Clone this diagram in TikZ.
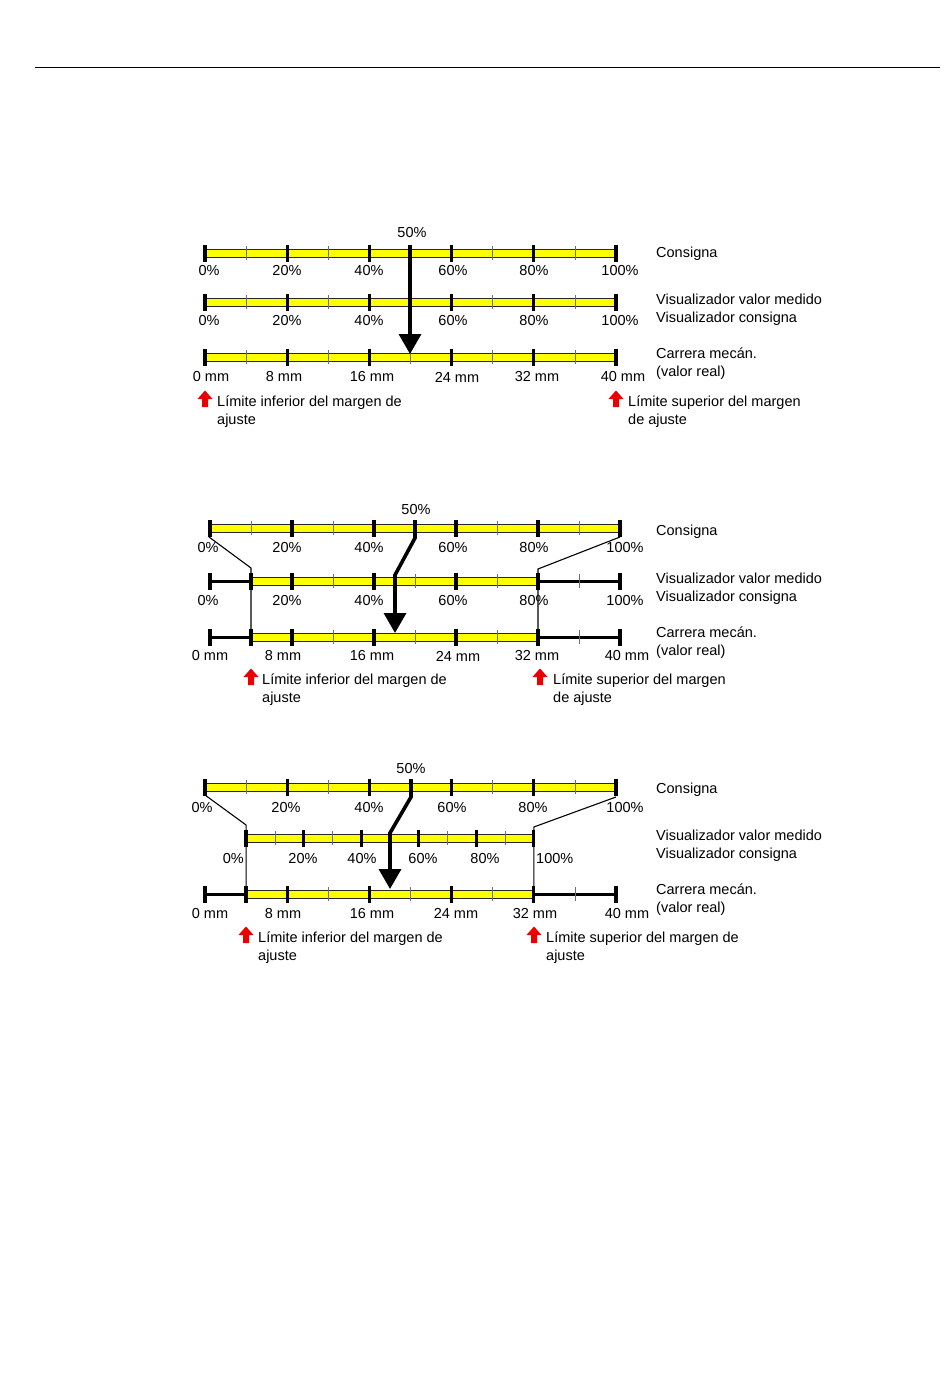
\documentclass[tikz,border=0pt]{standalone}
\usepackage{fontspec}
\setmainfont{Liberation Sans}
\usepackage{tikz}
\usetikzlibrary{arrows.meta, positioning, calc}
\definecolor{baryellow}{RGB}{255,255,0}
\definecolor{tickgray}{RGB}{110,110,110}
\definecolor{limred}{RGB}{235,0,0}

\tikzset{
  lbl/.style={inner sep=0pt, font=\fontsize{14.5}{18}\selectfont},
  side/.style={lbl, anchor=west, align=left, yshift=-2pt},
  bar/.style={draw=black!85, line width=0.6pt, fill=baryellow},
  major/.style={line width=3.3pt},
  minor/.style={tickgray, line width=0.7pt},
  blackseg/.style={line width=3pt},
  link/.style={line width=1.1pt},
  pointer/.style={line width=3.6pt, -{Triangle[width=22pt,length=20pt]}},
  limarrow/.pic={\fill[limred] (-7.5,0) -- (0,-8.5) -- (7.5,0) -- (3,0) -- (3,8) -- (-3,8) -- (-3,0) -- cycle;}
}

\begin{document}
\begin{tikzpicture}[x=1pt, y=-1pt]
  \useasboundingbox (0,0) rectangle (950,1397);
  \fill[white] (0,0) rectangle (950,1397);
  % page rule
  \coordinate (rulel) at (35,68);
  \coordinate (ruler) at (940,68);
  \draw[line width=1pt] (rulel) -- (ruler);

  % ---------- first diagram ----------
  \foreach \yy in {253,302,357} {
    \draw[bar] (205,\yy-4) rectangle (616,\yy+4);
    \foreach \k in {1,3,5,7,9} \draw[minor] (205+\k*41.1,\yy-7) -- ++(0,14);
    \foreach \k in {0,2,...,10} \draw[major] (205+\k*41.1,\yy-8.5) -- ++(0,17);
  }
  \foreach \t/\xx in {0/209,20/287,40/369,60/453,80/534,100/620} {
    \node[lbl] (d1a\t) at (\xx,271) {\t\%};
    \node[lbl] (d1b\t) at (\xx,321) {\t\%};
  }
  \foreach \t/\xx in {0/211,8/284,16/372,24/457,32/537,40/623}
    \node[lbl] (d1c\t) at (\xx,377) {\t\ mm};
  \node[lbl] (d1half) at (412,233) {50\%};
  \coordinate (d1s) at (410,245);
  \coordinate (d1e) at (410,354);
  \draw[pointer] (d1s) -- (d1e);
  \node[side] (d1cons) at (656,252) {Consigna};
  \node[side] (d1vis) at (656,308) {Visualizador valor medido\\Visualizador consigna};
  \node[side] (d1car) at (656,362) {Carrera mecán.\\(valor real)};
  \pic at (205,399) {limarrow};
  \pic at (616,399) {limarrow};
  \node[side] (d1inf) at (217,410) {Límite inferior del margen de\\ajuste};
  \node[side] (d1sup) at (628,410) {Límite superior del margen\\de ajuste};

  % ---------- second diagram ----------
  \draw[bar] (210,524) rectangle (620,532);
  \foreach \k in {1,3,5,7,9} \draw[minor] (210+\k*41,521) -- ++(0,14);
  \foreach \k in {0,2,...,10} \draw[major] (210+\k*41,519.5) -- ++(0,17);
  \foreach \yy in {581,637} {
    \draw[blackseg] (210,\yy) -- (251,\yy);
    \draw[blackseg] (538,\yy) -- (620,\yy);
    \draw[bar] (251,\yy-4) rectangle (538,\yy+4);
    \foreach \k in {3,5,7,9} \draw[minor] (210+\k*41,\yy-7) -- ++(0,14);
    \foreach \k in {0,1,2,4,6,8,10} \draw[major] (210+\k*41,\yy-8.5) -- ++(0,17);
  }
  \foreach \t/\xx in {0/208,20/287,40/369,60/453,80/534,100/625} {
    \node[lbl] (d2a\t) at (\xx,548) {\t\%};
    \node[lbl] (d2b\t) at (\xx,601) {\t\%};
  }
  \foreach \t/\xx in {0/210,8/283,16/372,24/458,32/537,40/627}
    \node[lbl] (d2c\t) at (\xx,656) {\t\ mm};
  \node[lbl] (d2half) at (416,510) {50\%};
  \coordinate (d2l0) at (209,537);
  \coordinate (d2l1) at (251,568);
  \coordinate (d2l2) at (251,637);
  \draw[link] (d2l0) -- (d2l1) -- (d2l2);
  \coordinate (d2r0) at (620,537);
  \coordinate (d2r1) at (538,569);
  \coordinate (d2r2) at (538,637);
  \draw[link] (d2r0) -- (d2r1) -- (d2r2);
  \coordinate (d2s) at (415,520);
  \coordinate (d2m1) at (415,538);
  \coordinate (d2m2) at (395,575);
  \coordinate (d2e) at (395,633);
  \draw[pointer] (d2s) -- (d2m1) -- (d2m2) -- (d2e);
  \node[side] (d2cons) at (656,530) {Consigna};
  \node[side] (d2vis) at (656,587) {Visualizador valor medido\\Visualizador consigna};
  \node[side] (d2car) at (656,641) {Carrera mecán.\\(valor real)};
  \pic at (251,677) {limarrow};
  \pic at (540,677) {limarrow};
  \node[side] (d2inf) at (262,688) {Límite inferior del margen de\\ajuste};
  \node[side] (d2sup) at (553,688) {Límite superior del margen\\de ajuste};

  % ---------- third diagram ----------
  \draw[bar] (205,783) rectangle (616,791);
  \foreach \k in {1,3,5,7,9} \draw[minor] (205+\k*41.1,780) -- ++(0,14);
  \foreach \k in {0,2,...,10} \draw[major] (205+\k*41.1,778.5) -- ++(0,17);
  % shortened display scale
  \draw[bar] (246.1,834) rectangle (533.8,842);
  \foreach \k in {1,3,5,7,9} \draw[minor] (246.1+\k*28.77,831) -- ++(0,14);
  \foreach \k in {0,2,...,10} \draw[major] (246.1+\k*28.77,829.5) -- ++(0,17);
  \draw[blackseg] (205,894) -- (246.1,894);
  \draw[blackseg] (533.8,894) -- (616,894);
  \draw[bar] (246.1,890) rectangle (533.8,898);
  \foreach \k in {3,5,7,9} \draw[minor] (205+\k*41.1,887) -- ++(0,14);
  \foreach \k in {0,1,2,4,6,8,10} \draw[major] (205+\k*41.1,885.5) -- ++(0,17);
  \foreach \t/\xx in {0/202,20/286,40/369,60/452,80/533,100/625}
    \node[lbl] (d3a\t) at (\xx,807) {\t\%};
  \node[lbl, anchor=east] (d3b0) at (244,858) {0\%};
  \foreach \t/\xx in {20/303,40/362,60/423,80/485}
    \node[lbl] (d3b\t) at (\xx,858) {\t\%};
  \node[lbl, anchor=west] (d3b100) at (536,858) {100\%};
  \foreach \t/\xx in {0/210,8/283,16/372,24/456,32/535,40/627}
    \node[lbl] (d3c\t) at (\xx,913) {\t\ mm};
  \node[lbl] (d3half) at (411,768) {50\%};
  \coordinate (d3l0) at (205,795);
  \coordinate (d3l1) at (246.1,825);
  \coordinate (d3l2) at (246.1,894);
  \draw[link] (d3l0) -- (d3l1) -- (d3l2);
  \coordinate (d3r0) at (616,797);
  \coordinate (d3r1) at (533.8,827);
  \coordinate (d3r2) at (533.8,894);
  \draw[link] (d3r0) -- (d3r1) -- (d3r2);
  \coordinate (d3s) at (411,779);
  \coordinate (d3m1) at (411,797);
  \coordinate (d3m2) at (390,833);
  \coordinate (d3e) at (390,889);
  \draw[pointer] (d3s) -- (d3m1) -- (d3m2) -- (d3e);
  \node[side] (d3cons) at (656,788) {Consigna};
  \node[side] (d3vis) at (656,844) {Visualizador valor medido\\Visualizador consigna};
  \node[side] (d3car) at (656,898) {Carrera mecán.\\(valor real)};
  \pic at (246,935) {limarrow};
  \pic at (534,935) {limarrow};
  \node[side] (d3inf) at (258,946) {Límite inferior del margen de\\ajuste};
  \node[side] (d3sup) at (546,946) {Límite superior del margen de\\ajuste};
\end{tikzpicture}
\end{document}
